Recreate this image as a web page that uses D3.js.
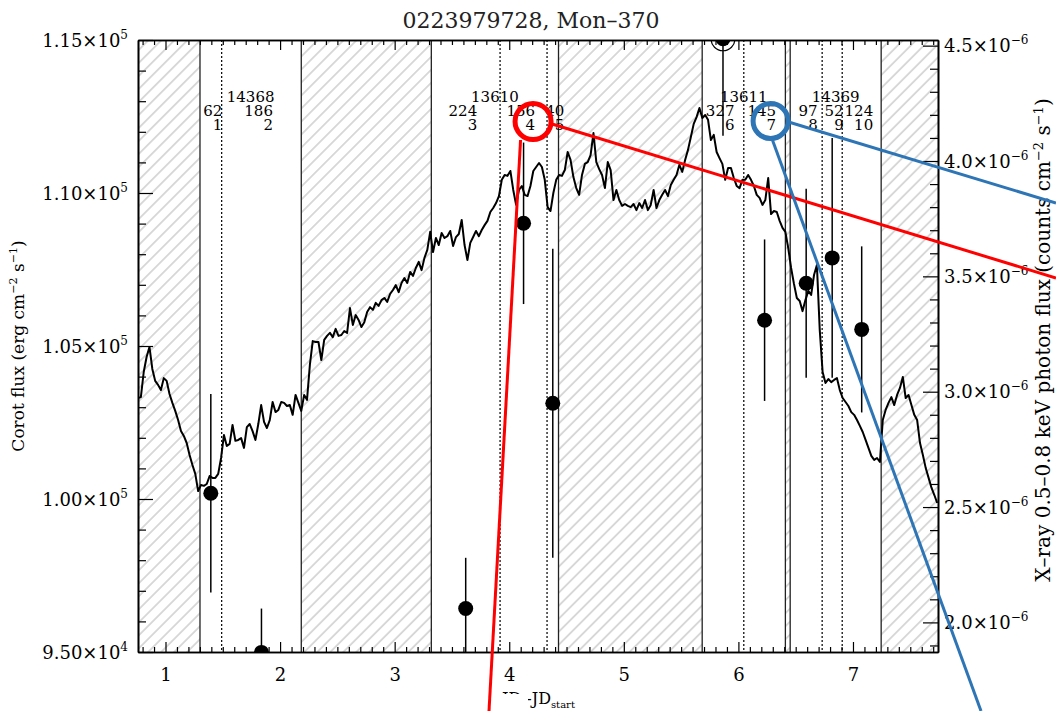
<!DOCTYPE html>
<html>
<head>
<meta charset="utf-8">
<script src="https://cdn.jsdelivr.net/npm/d3@7"></script>
<style>
  html, body { margin: 0; padding: 0; background: #fff; }
  svg { display: block; font-family: "DejaVu Serif", serif; }
</style>
</head>
<body>
<svg id="chart" width="1056" height="711"></svg>
<script>
// ---- CoRoT white-light flux, evenly sampled (erg cm^-2 s^-1) ----
const corotStart = 0.76;   // days since JD_start
const corotStep = 0.025;   // days
const corotFlux = [
  103300,103330,104150,104640,104970,104250,103860,103730,103560,103950,
  103860,103430,103140,102880,102580,102220,102060,101830,101440,101110,
  100820,100260,100460,100430,100490,100750,100690,100690,100820,101340,
  102090,101730,101800,102420,101900,101930,101990,101670,102350,102450,
  102220,101930,102450,103070,102520,102320,102580,103170,102840,102910,
  103170,103140,103040,103070,102750,103400,103140,102880,103400,103240,
  104380,105160,105130,105130,104540,105200,105330,105430,105290,105560,
  105330,105360,105490,105430,106240,105690,106010,105850,105620,105780,
  106110,106270,106180,106410,106310,106500,106570,106440,106700,106830,
  106990,106760,107060,107220,107060,107420,107290,107550,107750,107480,
  107880,108140,108730,108070,108530,108300,108690,108530,108590,108760,
  108270,108560,108660,109120,108300,107810,108370,108560,108760,108590,
  108790,108950,109090,109380,109510,109670,109900,110430,110590,110560,
  110720,110100,109610,110100,110230,109940,109900,110230,110720,110850,
  110980,110850,110430,109540,109410,110000,110430,110590,110560,110750,
  111340,111080,110520,110160,109940,110590,110950,111010,111240,111960,
  111010,110780,110590,110160,111010,110750,109770,110100,109770,109580,
  109640,109580,109540,109640,109440,109670,109510,109770,109440,109610,
  110100,109510,109770,109940,110100,109900,110260,110430,110590,110920,
  110690,111080,111410,111830,112260,112480,112780,112450,112550,112390,
  111730,111900,111340,111140,110950,110430,110820,110820,110490,110230,
  110160,110430,110430,110590,110430,110230,109940,109840,109610,109770,
  110490,109310,109410,109380,109090,108860,108730,108200,107550,107030,
  106570,106470,106140,106500,106800,106670,107320,107650,105520,104150,
  103790,103920,103820,103890,103950,103560,103300,103170,103040,102840,
  102750,102580,102390,102190,101930,101670,101410,101280,101340,101210,
  102580,102910,103140,103330,103070,103400,103630,103990,103300,103400,
  103070,102750,102580,101830,101440,101010,100690,100370,100130,99870
];

// ---- Chandra observations (days since JD_start) ----
const obsIds    = ["14368", "13610", "13611", "14369"];
const obsStart  = [1.301, 3.32, 5.684, 6.452];
const obsEnd    = [2.185, 4.43, 6.41, 7.246];
const segBreaks = [[1.49], [3.92, 4.33], [6.047], [6.731, 6.906]];

// per-segment source counts and 0.5-0.8 keV photon flux (1e-6 counts cm^-2 s^-1)
const segCounts = ["62", "186", "224", "156", "40", "327", "145", "97", "52", "124"];
const xrayFlux  = [2.56, 1.87, 2.06, 3.73, 2.95, 4.53, 3.31, 3.47, 3.58, 3.27];
const xrayErr   = [0.43, 0.19, 0.22, 0.35, 0.67, 0.42, 0.35, 0.41, 0.52, 0.36];
const markedSegs = [6];

// ---- axes ----
const timeDomain  = [0.76, 7.742];
const corotDomain = [95000, 115000];
const xrayDomain  = [1.8717, 4.5245];
const xTicks = [1, 2, 3, 4, 5, 6, 7];
const leftTicks  = [95000, 100000, 105000, 110000, 115000];
const leftMant   = ["9.50", "1.00", "1.05", "1.10", "1.15"];
const leftExp    = ["4", "5", "5", "5", "5"];
const rightTicks = [2.0, 2.5, 3.0, 3.5, 4.0, 4.5];
const rightMant  = ["2.0", "2.5", "3.0", "3.5", "4.0", "4.5"];
const rightExp   = "\u22126";

const titleText = "0223979728, Mon\u2013370";

// ---------------------------------------------------------------
const svg = d3.select("#chart");
const L = 138, R = 938, T = 40, B = 652;

const x  = d3.scaleLinear().domain(timeDomain).range([L, R]);
const yL = d3.scaleLinear().domain(corotDomain).range([B, T]);
const yR = d3.scaleLinear().domain(xrayDomain).range([B, T]);

const defs = svg.append("defs");
defs.append("clipPath").attr("id", "plotClip")
  .append("rect").attr("x", L).attr("y", T).attr("width", R - L).attr("height", B - T);
const hatch = defs.append("pattern").attr("id", "hatch")
  .attr("patternUnits", "userSpaceOnUse")
  .attr("width", 9.2).attr("height", 9.2)
  .attr("patternTransform", "rotate(45)");
hatch.append("line").attr("x1", 4.6).attr("x2", 4.6).attr("y1", 0).attr("y2", 9.2)
  .attr("stroke", "#c6c6c6").attr("stroke-width", 1.3);

// segments of each observation
const segments = [];
obsIds.forEach((id, k) => {
  const edges = [obsStart[k], ...segBreaks[k], obsEnd[k]];
  for (let j = 0; j < edges.length - 1; j++) {
    segments.push({ obs: k, t0: edges[j], t1: edges[j + 1], mid: (edges[j] + edges[j + 1]) / 2 });
  }
});
segments.forEach((s, i) => {
  s.n = i + 1; s.flux = xrayFlux[i]; s.err = xrayErr[i]; s.counts = segCounts[i];
});

// gaps between observations
const bounds = [timeDomain[0]];
obsStart.forEach((s, k) => bounds.push(s, obsEnd[k]));
bounds.push(timeDomain[1]);
const gaps = [];
for (let i = 0; i < bounds.length; i += 2) gaps.push([bounds[i], bounds[i + 1]]);

const plot = svg.append("g").attr("clip-path", "url(#plotClip)");

plot.selectAll("rect.gap").data(gaps).join("rect").attr("class", "gap")
  .attr("x", d => x(d[0])).attr("width", d => x(d[1]) - x(d[0]))
  .attr("y", T).attr("height", B - T)
  .attr("fill", "url(#hatch)");

// observation boundaries
const edgesSolid = obsStart.concat(obsEnd);
plot.selectAll("line.obsEdge").data(edgesSolid).join("line").attr("class", "obsEdge")
  .attr("x1", d => x(d)).attr("x2", d => x(d)).attr("y1", T).attr("y2", B)
  .attr("stroke", "#222").attr("stroke-width", 1.3);
plot.selectAll("line.segEdge").data(segBreaks.flat()).join("line").attr("class", "segEdge")
  .attr("x1", d => x(d)).attr("x2", d => x(d)).attr("y1", T).attr("y2", B)
  .attr("stroke", "#111").attr("stroke-width", 1.3).attr("stroke-dasharray", "2,2");

// CoRoT light curve
const curve = d3.line()
  .x((d, i) => x(corotStart + i * corotStep))
  .y(d => yL(d));
plot.append("path").datum(corotFlux)
  .attr("d", curve).attr("fill", "none")
  .attr("stroke", "#000").attr("stroke-width", 2).attr("stroke-linejoin", "round");

// X-ray points with error bars
plot.selectAll("line.err").data(segments).join("line").attr("class", "err")
  .attr("x1", d => x(d.mid)).attr("x2", d => x(d.mid))
  .attr("y1", d => yR(d.flux - d.err)).attr("y2", d => yR(d.flux + d.err))
  .attr("stroke", "#000").attr("stroke-width", 1.5);
plot.selectAll("circle.pt").data(segments).join("circle").attr("class", "pt")
  .attr("cx", d => x(d.mid)).attr("cy", d => yR(d.flux)).attr("r", 7.5)
  .attr("fill", "#000");
plot.selectAll("circle.ring").data(segments.filter(s => markedSegs.includes(s.n)))
  .join("circle").attr("class", "ring")
  .attr("cx", d => x(d.mid)).attr("cy", d => yR(d.flux)).attr("r", 12)
  .attr("fill", "none").attr("stroke", "#000").attr("stroke-width", 1.2);

// ---- axes ----
function styleAxis(g) {
  g.attr("font-family", null).attr("font-size", null);
  g.select(".domain").attr("stroke", "#000").attr("stroke-width", 1.6);
  g.selectAll(".tick line").attr("stroke", "#000").attr("stroke-width", 1.2);
}
const minorX = d3.range(8, 78).map(v => v / 10).filter(v => v % 1 !== 0);
const minorL = d3.range(95000, 115001, 1000).filter(v => v % 5000 !== 0);
const minorR = d3.range(19, 46).map(v => v / 10).filter(v => Math.round(v * 10) % 5 !== 0);

svg.append("g").attr("transform", `translate(0,${B})`)
  .call(d3.axisBottom(x).tickValues(minorX).tickSize(-5).tickSizeOuter(0).tickFormat(""))
  .call(styleAxis);
svg.append("g").attr("transform", `translate(0,${B})`)
  .call(d3.axisBottom(x).tickValues(xTicks).tickSize(-10).tickSizeOuter(0).tickPadding(16).tickFormat(d3.format("d")))
  .call(styleAxis)
  .call(g => g.selectAll(".tick text").attr("font-size", 18).attr("fill", "#000"));
svg.append("g").attr("transform", `translate(0,${T})`)
  .call(d3.axisTop(x).tickValues(minorX).tickSize(-5).tickSizeOuter(0).tickFormat(""))
  .call(styleAxis);
svg.append("g").attr("transform", `translate(0,${T})`)
  .call(d3.axisTop(x).tickValues(xTicks).tickSize(-10).tickSizeOuter(0).tickFormat(""))
  .call(styleAxis);

svg.append("g").attr("transform", `translate(${L},0)`)
  .call(d3.axisLeft(yL).tickValues(minorL).tickSize(-8).tickSizeOuter(0).tickFormat(""))
  .call(styleAxis);
svg.append("g").attr("transform", `translate(${L},0)`)
  .call(d3.axisLeft(yL).tickValues(leftTicks).tickSize(-15).tickSizeOuter(0).tickFormat(""))
  .call(styleAxis);
svg.append("g").attr("transform", `translate(${R},0)`)
  .call(d3.axisRight(yR).tickValues(minorR).tickSize(-8).tickSizeOuter(0).tickFormat(""))
  .call(styleAxis);
svg.append("g").attr("transform", `translate(${R},0)`)
  .call(d3.axisRight(yR).tickValues(rightTicks).tickSize(-15).tickSizeOuter(0).tickFormat(""))
  .call(styleAxis);

// scientific tick labels
function sci(sel, mant, exp, size, supSize, rise) {
  sel.attr("font-size", size).attr("fill", "#000");
  sel.append("tspan").text(mant + "\u00d710");
  sel.append("tspan").attr("font-size", supSize).attr("dy", -rise).text(exp);
}
leftTicks.forEach((v, i) => {
  svg.append("text").attr("x", L - 10).attr("y", yL(v) + 6.5).attr("text-anchor", "end")
    .call(sci, leftMant[i], leftExp[i], 18, 12, 8);
});
rightTicks.forEach((v, i) => {
  svg.append("text").attr("x", R + 6).attr("y", yR(v) + 6.5).attr("text-anchor", "start")
    .call(sci, rightMant[i], rightExp, 18, 12, 8);
});

// observation labels: obsid, counts, segment number
const labelFont = 15;
obsIds.forEach((id, k) => {
  svg.append("text").attr("x", x((obsStart[k] + obsEnd[k]) / 2)).attr("y", 101.5)
    .attr("text-anchor", "middle").attr("font-size", labelFont).attr("fill", "#000").text(id);
});
svg.selectAll("text.cnt").data(segments).join("text").attr("class", "cnt")
  .attr("x", d => x(d.mid) + 11.5).attr("y", 115.5).attr("text-anchor", "end")
  .attr("font-size", labelFont).attr("fill", "#000").text(d => d.counts);
svg.selectAll("text.num").data(segments).join("text").attr("class", "num")
  .attr("x", d => x(d.mid) + 11.5).attr("y", 129.5).attr("text-anchor", "end")
  .attr("font-size", labelFont).attr("fill", "#000").text(d => d.n);

// title and axis titles
svg.append("text").attr("x", 531).attr("y", 28).attr("text-anchor", "middle")
  .attr("font-size", 22).attr("fill", "#222").text(titleText);

function unitTitle(sel, pre, size) {
  sel.attr("font-size", size).attr("fill", "#000").attr("text-anchor", "middle");
  sel.append("tspan").text(pre + " cm");
  sel.append("tspan").attr("font-size", size * 0.65).attr("dy", -7).text("\u22122");
  sel.append("tspan").attr("dy", 7).text(" s");
  sel.append("tspan").attr("font-size", size * 0.65).attr("dy", -7).text("\u22121");
  sel.append("tspan").attr("dy", 7).text(")");
}
svg.append("text").attr("transform", "translate(24,346) rotate(-90)")
  .call(unitTitle, "Corot flux (erg", 17);
svg.append("text").attr("transform", "translate(1050,340) rotate(-90)")
  .call(unitTitle, "X\u2013ray 0.5\u20130.8 keV photon flux (counts", 20);

// time axis title, partly hidden by the cover strip at the bottom
const xt = svg.append("text").attr("x", 502).attr("y", 704)
  .attr("font-size", 16).attr("fill", "#000");
xt.append("tspan").text("JD");
xt.append("tspan").text(" -JD");
xt.append("tspan").attr("font-size", 10).attr("dy", 4).text("start");
svg.append("rect").attr("x", 0).attr("y", 694).attr("width", 528).attr("height", 17).attr("fill", "#fff");

// ---- callouts on segments 4 and 7 ----
const callouts = [
  { seg: 4, color: "#ff0000", dx: 9.5, cy: 121.5, r: 18,
    rays: [[[19, 2.5], [1056, 278]], [[-12.5, 18.5], [489, 711]]] },
  { seg: 7, color: "#2e75b6", dx: 6, cy: 121, r: 17.5,
    rays: [[[18, 1], [1056, 203]], [[1.5, 18], [981, 711]]] }
];
callouts.forEach(c => {
  const s = segments[c.seg - 1];
  const cx = x(s.mid) + c.dx;
  const g = svg.append("g");
  c.rays.forEach(([off, end]) => {
    g.append("line").attr("x1", cx + off[0]).attr("y1", c.cy + off[1])
      .attr("x2", end[0]).attr("y2", end[1])
      .attr("stroke", c.color).attr("stroke-width", 3);
  });
  g.append("circle").attr("cx", cx).attr("cy", c.cy).attr("r", c.r)
    .attr("fill", "none").attr("stroke", c.color).attr("stroke-width", 5);
});
</script>
</body>
</html>
